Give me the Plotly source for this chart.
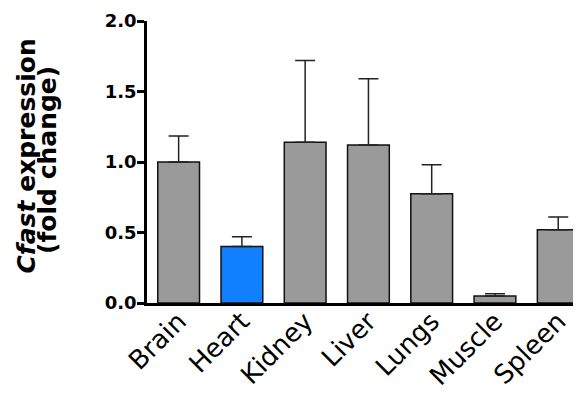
import plotly.graph_objects as go

categories = ["Brain", "Heart", "Kidney", "Liver", "Lungs", "Muscle", "Spleen"]
means = [1.00, 0.40, 1.14, 1.12, 0.775, 0.05, 0.52]
sem = [0.185, 0.07, 0.58, 0.47, 0.205, 0.016, 0.09]
bar_colors = ["#9a9a9a", "#1180ff", "#9a9a9a", "#9a9a9a", "#9a9a9a", "#9a9a9a", "#9a9a9a"]
y_ticks = [0.0, 0.5, 1.0, 1.5, 2.0]
y_tick_labels = ["0.0", "0.5", "1.0", "1.5", "2.0"]
title_line1 = "<b><i>Cfast</i> expression</b>"
title_line2 = "<b>(fold change)</b>"

FONT = "DejaVu Sans"
OFF = 8  # page body margin offset
W, H = 581 - OFF, 394 - OFF
# target page pixel positions: plot left 147, top 21, bottom 303, right 581
L, T = 147 - OFF, 21 - OFF
B = H - (303 - OFF)
R = 0
pw, ph = W - L - R, H - T - B


def px_x(p):
    return (p - OFF - L) / pw


def px_y(p):
    return (H - B - (p - OFF)) / ph


fig = go.Figure()
fig.add_trace(go.Bar(
    x=categories, y=means,
    marker=dict(color=bar_colors, line=dict(color="#111111", width=1.5)),
    error_y=dict(type="data", array=sem, arrayminus=[0] * len(sem), symmetric=False,
                 color="#222222", thickness=1.5, width=10),
    width=0.66,
))

fig.update_layout(
    width=W, height=H,
    margin=dict(l=L, r=R, t=T, b=B, pad=0),
    paper_bgcolor="white", plot_bgcolor="white",
    showlegend=False,
    xaxis=dict(
        range=[-0.5, 6.36], showline=True, linecolor="black", linewidth=2.5,
        ticks="", tickangle=-45, showgrid=False, zeroline=False,
        ticklabelstandoff=-10,
        tickfont=dict(family=FONT, size=26, color="black"), automargin=False,
    ),
    yaxis=dict(
        range=[0, 2.0], tickvals=y_ticks, ticktext=y_tick_labels,
        showline=True, linecolor="black", linewidth=2.5,
        ticks="outside", ticklen=7, tickwidth=2.5, tickcolor="black",
        showgrid=False, zeroline=False, ticklabelstandoff=-3,
        tickfont=dict(family=FONT, size=18, color="black", weight="bold"),
        automargin=False,
    ),
    annotations=[
        dict(text=title_line1, xref="paper", yref="paper",
             x=px_x(26), y=px_y(156.5), xanchor="center", yanchor="middle",
             textangle=-90, showarrow=False,
             font=dict(family=FONT, size=25, color="black")),
        dict(text=title_line2, xref="paper", yref="paper",
             x=px_x(47), y=px_y(160), xanchor="center", yanchor="middle",
             textangle=-90, showarrow=False,
             font=dict(family=FONT, size=25, color="black")),
    ],
)

fig.write_html("out.html")
